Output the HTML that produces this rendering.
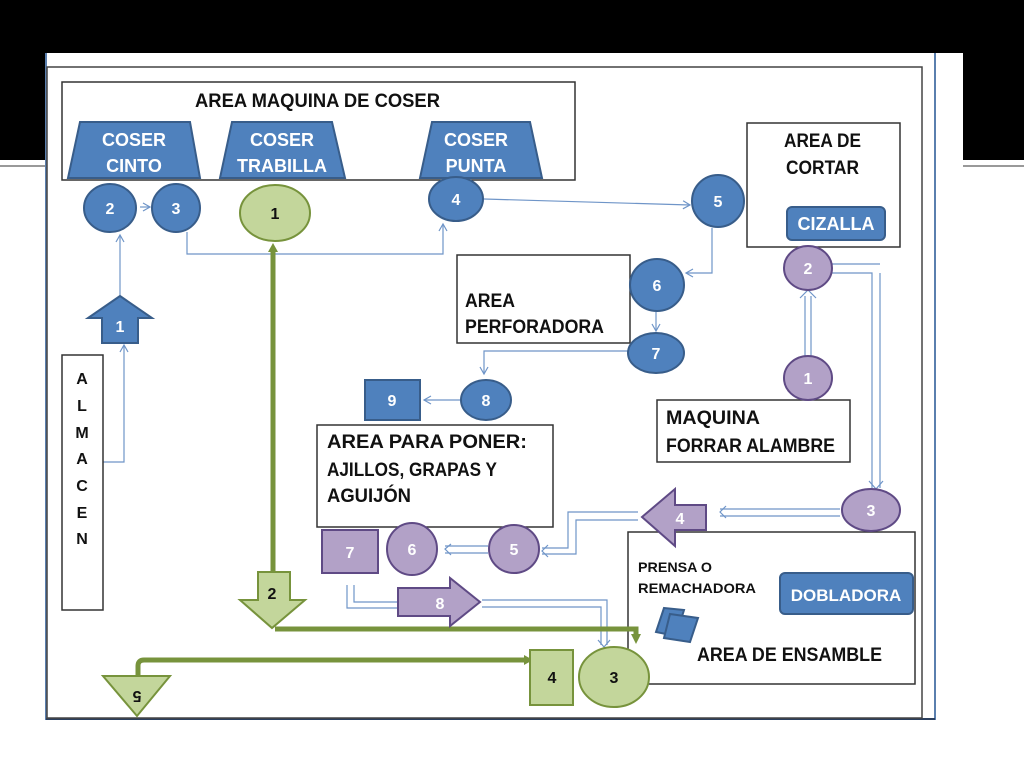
<!DOCTYPE html>
<html><head><meta charset="utf-8"><style>
html,body{margin:0;padding:0;background:#000;}
svg{display:block}
text{font-family:"Liberation Sans Narrow","Liberation Sans",sans-serif;font-weight:bold;}
</style></head><body>
<svg width="1024" height="768" viewBox="0 0 1024 768" xmlns="http://www.w3.org/2000/svg">
<defs>
<marker id="a" markerWidth="10" markerHeight="10" refX="8" refY="5" orient="auto" markerUnits="userSpaceOnUse"><path d="M1,1 L8,5 L1,9" fill="none" stroke="#6f95c8" stroke-width="1.2"/></marker>
</defs>
<rect x="0" y="0" width="1024" height="768" fill="#000"/>
<rect x="0" y="160" width="1024" height="608" fill="#fff"/>
<rect x="45" y="53" width="918" height="715" fill="#fff"/>
<line x1="0" y1="166" x2="45" y2="166" stroke="#999" stroke-width="2"/>
<line x1="963" y1="166" x2="1024" y2="166" stroke="#999" stroke-width="2"/>
<line x1="46" y1="53" x2="46" y2="720" stroke="#5a7fae" stroke-width="2"/>
<line x1="935" y1="53" x2="935" y2="720" stroke="#5a7fae" stroke-width="2"/>
<line x1="46" y1="719" x2="935" y2="719" stroke="#2b3f5e" stroke-width="2"/>
<rect x="47" y="67" width="875" height="651" fill="none" stroke="#444" stroke-width="1.5"/>

<g fill="none" stroke="#6f95c8" stroke-width="1.2">
<polyline points="187,232 187,254 443,254 443,224" marker-end="url(#a)"/>
<line x1="120" y1="295" x2="120" y2="235" marker-end="url(#a)"/>
<line x1="140" y1="207" x2="150" y2="207" marker-end="url(#a)"/>
<polyline points="103,462 124,462 124,345" marker-end="url(#a)"/>
<line x1="484" y1="199" x2="690" y2="205" marker-end="url(#a)"/>
<polyline points="712,228 712,273 686,273" marker-end="url(#a)"/>
<line x1="656" y1="312" x2="656" y2="331" marker-end="url(#a)"/>
<polyline points="628,351 484,351 484,374" marker-end="url(#a)"/>
<line x1="460" y1="400" x2="424" y2="400" marker-end="url(#a)"/>
<line x1="805" y1="356" x2="805" y2="296"/><line x1="811" y1="356" x2="811" y2="296"/>
<polyline points="800,298 808,290 816,298"/>
<polyline points="832,264 880,264"/><polyline points="832,273 872,273 872,488"/><polyline points="880,273 880,488"/>
<polyline points="869,481 876,489 883,481"/>
<line x1="840" y1="509" x2="720" y2="509"/><line x1="840" y1="516" x2="720" y2="516"/>
<polyline points="726,506 720,512 726,518"/>
<polyline points="638,512 568,512 568,548 542,548"/><polyline points="638,520 576,520 576,554 542,554"/>
<polyline points="548,545 542,551 548,557"/>
<line x1="488" y1="546" x2="445" y2="546"/><line x1="488" y1="553" x2="445" y2="553"/>
<polyline points="451,544 445,549 451,555"/>
<polyline points="347,585 347,608 400,608"/><polyline points="354,585 354,602 400,602"/>
<polyline points="482,600 607,600 607,645"/><polyline points="482,607 601,607 601,645"/>
<polyline points="598,640 604,647 610,640"/>
</g>

<g fill="#fff" stroke="#333" stroke-width="1.5">
<rect x="62" y="82" width="513" height="98"/>
<rect x="747" y="123" width="153" height="124"/>
<rect x="457" y="255" width="173" height="88"/>
<rect x="657" y="400" width="193" height="62"/>
<rect x="317" y="425" width="236" height="102"/>
<rect x="628" y="532" width="287" height="152"/>
<rect x="62" y="355" width="41" height="255"/>
</g>

<g stroke="#77933c" stroke-width="5" fill="none">
<line x1="273" y1="575" x2="273" y2="250"/>
<polyline points="275,629 636,629 636,636" />
<path d="M138,680 L138,666 Q138,660 144,660 L525,660"/>
</g>
<path d="M268,252 L273,243 L278,252Z" fill="#77933c"/>
<path d="M631,634 L641,634 L636,644Z" fill="#77933c"/>
<path d="M524,655 L533,660 L524,665Z" fill="#77933c"/>

<g fill="#4f81bd" stroke="#385d8a" stroke-width="2">
<path d="M80,122 L190,122 L200,178 L68,178Z"/>
<path d="M232,122 L332,122 L345,178 L220,178Z"/>
<path d="M432,122 L530,122 L542,178 L420,178Z"/>
<ellipse cx="110" cy="208" rx="26" ry="24"/>
<ellipse cx="176" cy="208" rx="24" ry="24"/>
<ellipse cx="456" cy="199" rx="27" ry="22"/>
<ellipse cx="718" cy="201" rx="26" ry="26"/>
<ellipse cx="657" cy="285" rx="27" ry="26"/>
<ellipse cx="656" cy="353" rx="28" ry="20"/>
<ellipse cx="486" cy="400" rx="25" ry="20"/>
<rect x="365" y="380" width="55" height="40"/>
<rect x="787" y="207" width="98" height="33" rx="5"/>
<rect x="780" y="573" width="133" height="41" rx="5"/>
<path d="M120,296 L152,318 L138,318 L138,343 L102,343 L102,318 L88,318Z"/>
<path d="M664,608 L684,610 L676,636 L656,632Z"/>
<path d="M670,614 L698,618 L690,642 L664,638Z"/>
</g>

<g fill="#b2a1c7" stroke="#5f4a85" stroke-width="2">
<ellipse cx="808" cy="268" rx="24" ry="22"/>
<ellipse cx="808" cy="378" rx="24" ry="22"/>
<ellipse cx="871" cy="510" rx="29" ry="21"/>
<ellipse cx="514" cy="549" rx="25" ry="24"/>
<ellipse cx="412" cy="549" rx="25" ry="26"/>
<rect x="322" y="530" width="56" height="43"/>
<path d="M642,517 L675,489 L675,505 L706,505 L706,530 L675,530 L675,546Z"/>
<path d="M398,588 L450,588 L450,578 L480,602 L450,626 L450,616 L398,616Z"/>
</g>

<g fill="#c3d69b" stroke="#77933c" stroke-width="2">
<ellipse cx="275" cy="213" rx="35" ry="28"/>
<ellipse cx="614" cy="677" rx="35" ry="30"/>
<rect x="530" y="650" width="43" height="55"/>
<path d="M258,572 L290,572 L290,600 L305,600 L272,628 L240,600 L258,600Z"/>
<path d="M103,676 L170,676 L137,716Z"/>
</g>

<g font-size="19" fill="#111" lengthAdjust="spacingAndGlyphs">
<text x="195" y="107" textLength="245" lengthAdjust="spacingAndGlyphs">AREA MAQUINA DE COSER</text>
<text x="784" y="147" textLength="77" lengthAdjust="spacingAndGlyphs">AREA DE</text>
<text x="786" y="174" textLength="73" lengthAdjust="spacingAndGlyphs">CORTAR</text>
<text x="465" y="307" textLength="50" lengthAdjust="spacingAndGlyphs">AREA</text>
<text x="465" y="333" textLength="139" lengthAdjust="spacingAndGlyphs">PERFORADORA</text>
<text x="666" y="424" textLength="94" lengthAdjust="spacingAndGlyphs">MAQUINA</text>
<text x="666" y="452" textLength="169" lengthAdjust="spacingAndGlyphs">FORRAR ALAMBRE</text>
<text x="327" y="448" textLength="200" lengthAdjust="spacingAndGlyphs">AREA PARA PONER:</text>
<text x="327" y="476" textLength="170" lengthAdjust="spacingAndGlyphs">AJILLOS, GRAPAS Y</text>
<text x="327" y="502" textLength="84" lengthAdjust="spacingAndGlyphs">AGUIJÓN</text>
<text x="697" y="661" textLength="185" lengthAdjust="spacingAndGlyphs">AREA DE ENSAMBLE</text>
</g>
<g font-size="14" fill="#111"><text x="638" y="572" textLength="74" lengthAdjust="spacingAndGlyphs">PRENSA O</text><text x="638" y="593" textLength="118" lengthAdjust="spacingAndGlyphs">REMACHADORA</text></g>
<g font-size="16" fill="#111" text-anchor="middle">
<text x="82" y="384">A</text><text x="82" y="411">L</text><text x="82" y="438">M</text><text x="82" y="464">A</text><text x="82" y="491">C</text><text x="82" y="518">E</text><text x="82" y="544">N</text>
</g>
<g font-size="18" fill="#fff" text-anchor="middle">
<text x="134" y="146">COSER</text><text x="134" y="172">CINTO</text>
<text x="282" y="146">COSER</text><text x="282" y="172">TRABILLA</text>
<text x="476" y="146">COSER</text><text x="476" y="172">PUNTA</text>
<text x="836" y="230">CIZALLA</text>
<text x="846" y="601" font-size="17">DOBLADORA</text>
</g>
<g font-size="16" fill="#fff" text-anchor="middle">
<text x="110" y="214">2</text><text x="176" y="214">3</text><text x="456" y="205">4</text><text x="718" y="207">5</text>
<text x="657" y="291">6</text><text x="656" y="359">7</text><text x="486" y="406">8</text><text x="392" y="406">9</text>
<text x="120" y="332">1</text>
<text x="808" y="274">2</text><text x="808" y="384">1</text><text x="871" y="516">3</text><text x="680" y="524">4</text>
<text x="514" y="555">5</text><text x="412" y="555">6</text><text x="350" y="558">7</text><text x="440" y="609">8</text>
</g>
<g font-size="16" fill="#111" text-anchor="middle">
<text x="275" y="219">1</text><text x="272" y="599">2</text><text x="552" y="683">4</text><text x="614" y="683">3</text>
<text x="137" y="681" transform="rotate(180 137 686)">5</text>
</g>
</svg>
</body></html>
